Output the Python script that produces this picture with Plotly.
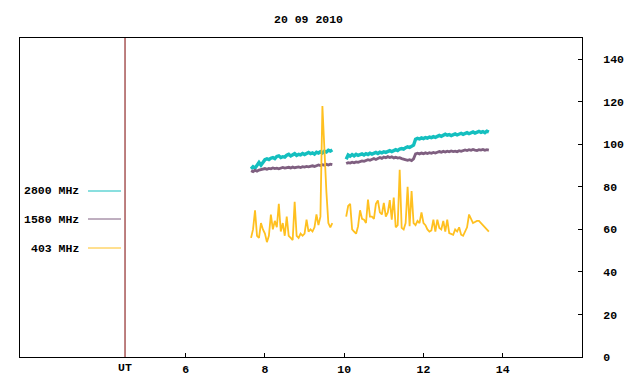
import plotly.graph_objects as go

# ---------------- data ----------------
TITLE = "20 09 2010"
SERIES_NAMES = ["2800 MHz", "1580 MHz", "403 MHz"]
SERIES_COLORS = ["#14bfbf", "#7f5f80", "#ffc020"]
X_TICKS = [6, 8, 10, 12, 14]
Y_TICKS = [0, 20, 40, 60, 80, 100, 120, 140]
UT_POS = 4.47

SEG1_START, SEG2_START, STEP = 7.65, 10.05, 0.05

f2800_seg1 = [88.5, 89.5, 88.8, 90.5, 91.5, 90.2, 91.8, 92.8, 93.2, 92.8, 93.5, 93.8, 93.3, 94.3,
              94.6, 93.8, 94.2, 94.0, 94.9, 95.3, 94.5, 95.0, 95.6, 94.8, 95.3, 95.0, 95.7, 95.2,
              95.8, 96.2, 95.6, 96.0, 95.4, 96.3, 95.9, 96.5, 96.0, 96.8, 96.4, 97.2, 96.8, 97.4]
f2800_seg2 = [93.0, 95.0, 94.4, 95.2, 94.6, 95.3, 94.8, 95.0, 95.5, 95.0, 95.6, 95.2, 95.8, 95.4,
              95.9, 96.2, 95.7, 96.3, 96.0, 96.5, 96.2, 96.8, 97.0, 96.6, 97.2, 97.5, 97.1, 97.8,
              98.0, 97.7, 98.4, 98.8, 98.5, 99.2, 99.6, 102.4, 102.8, 102.5, 103.0, 102.7, 103.2,
              102.9, 103.4, 103.1, 103.6, 103.3, 103.8, 104.2, 103.8, 104.4, 104.8, 104.3, 104.6,
              104.1, 104.5, 104.9, 104.4, 104.8, 105.2, 104.7, 105.1, 105.5, 105.0, 105.4, 105.8,
              105.3, 105.7, 106.1, 105.6, 106.0, 105.5, 106.2, 105.8]

f1580_seg1 = [87.6, 87.2, 87.8, 87.4, 87.9, 88.1, 88.4, 88.6, 88.3, 88.7, 88.5, 88.9, 88.6, 88.8,
              88.5, 88.9, 89.1, 88.8, 89.0, 89.2, 88.9, 89.3, 89.0, 89.2, 89.4, 89.1, 89.5, 89.3,
              89.6, 89.4, 89.7, 89.9, 89.6, 90.0, 90.3, 90.0, 90.4, 90.2, 90.6, 90.3, 90.7, 90.5]
f1580_seg2 = [91.0, 91.4, 91.2, 91.6, 91.3, 91.7, 91.5, 91.9, 92.2, 92.0, 92.5, 92.8, 92.5, 93.0,
              93.3, 92.9, 93.5, 93.8, 93.4, 94.0, 93.7, 94.2, 93.8, 94.1, 93.6, 93.9, 93.5, 93.7,
              93.3, 93.0, 92.7, 92.5, 92.8, 92.4, 93.2, 95.5, 95.8, 95.5, 95.9, 95.6, 96.0, 95.7,
              96.1, 95.8, 96.2, 95.9, 96.3, 96.6, 96.3, 96.7, 96.4, 96.8, 96.5, 96.9, 96.6, 96.8,
              96.5, 97.0, 96.7, 97.2, 97.4, 97.1, 97.5, 97.2, 97.6, 97.3, 97.1, 97.5, 97.3, 97.6,
              97.2, 97.5, 97.3]

f403_seg1 = [56, 60, 69, 57, 56, 63, 60, 58, 54, 57, 67, 60, 64, 61, 72, 59, 63, 57, 66, 57, 56,
             55, 73, 57, 56, 58, 57, 58, 64.6, 59, 60, 59, 61, 67, 62, 66, 118, 96, 77.8, 63, 61, 63]
f403_seg2 = [66, 71, 72, 60, 59, 58, 61.5, 69, 65, 64.6, 63, 74, 66, 66, 65, 72, 73.6, 68, 67, 72.5,
             66, 68, 73.8, 64.6, 75, 61, 62, 88, 60.7, 60, 63, 80, 61.5, 78, 63, 62, 64, 63, 68, 63,
             62, 60, 59, 59.5, 64.6, 59, 64.6, 60.7, 60, 64, 59, 64.6, 58.3, 57.8, 57.5, 60, 59, 61,
             57.5, 57, 59, 61, 67, 65, 63, 63.5, 64, 64, 63, 62.4, 61, 60, 59]

# ---------------- figure ----------------
def times(start, n):
    return [round(start + STEP * i, 3) for i in range(n)]

def join(seg1, seg2):
    x = times(SEG1_START, len(seg1)) + [None] + times(SEG2_START, len(seg2))
    y = seg1 + [None] + seg2
    return x, y

series = [(f2800_seg1, f2800_seg2), (f1580_seg1, f1580_seg2), (f403_seg1, f403_seg2)]
widths = [3.4, 2.8, 1.8]

fig = go.Figure()
for (s1, s2), name, col, w in zip(series, SERIES_NAMES, SERIES_COLORS, widths):
    x, y = join(s1, s2)
    fig.add_trace(go.Scatter(x=x, y=y, mode="lines", name=name,
                             line=dict(color=col, width=w), connectgaps=False,
                             showlegend=False))

FONT = dict(family="Liberation Mono, DejaVu Sans Mono, monospace", size=11.5,
            color="black", weight="bold")

# screen pixels of the plot area: x 20..582, y 38..357; page has an 8px body margin
OFF = 8
L, R, T, B = 20, 582, 38, 357
W, H = 640 - 2 * OFF, 384 - 2 * OFF

def px(x):
    return (x - L) / (R - L)

def py(y):
    return (B - y) / (B - T)

shapes = [dict(type="line", xref="x", yref="paper", x0=UT_POS, x1=UT_POS, y0=0, y1=1,
               line=dict(color="#7a0000", width=1))]
annotations = [
    dict(text=TITLE, xref="paper", yref="paper", x=px(308), y=py(19), showarrow=False,
         font=FONT, xanchor="center", yanchor="middle"),
    dict(text="UT", xref="x", yref="paper", x=UT_POS, y=py(367), showarrow=False,
         font=FONT, xanchor="center", yanchor="middle"),
]
legend_y = [191, 219, 248]
for name, col, ly in zip(SERIES_NAMES, SERIES_COLORS, legend_y):
    annotations.append(dict(text=name, xref="paper", yref="paper", x=px(81), y=py(ly),
                            showarrow=False, font=FONT, xanchor="right", yanchor="middle"))
    shapes.append(dict(type="line", xref="paper", yref="paper", x0=px(88), x1=px(121),
                       y0=py(ly), y1=py(ly), line=dict(color=col, width=1)))

fig.update_layout(
    width=W, height=H,
    margin=dict(l=L - OFF, r=(640 - OFF) - R, t=T - OFF, b=(384 - OFF) - B, pad=0,
                autoexpand=False),
    paper_bgcolor="white", plot_bgcolor="white",
    shapes=shapes, annotations=annotations,
    font=FONT,
    xaxis=dict(range=[1.82, 16.0], tickvals=X_TICKS, ticktext=[str(v) for v in X_TICKS],
               ticks="inside", ticklen=4, tickcolor="black", showgrid=False, zeroline=False,
               showline=True, linecolor="black", linewidth=1, mirror=True,
               tickfont=FONT, automargin=False, ticklabelstandoff=1),
    yaxis=dict(range=[0, 150], side="right", tickvals=Y_TICKS, ticks="inside", ticklen=4,
               tickcolor="black", showgrid=False, zeroline=False, showline=True,
               linecolor="black", linewidth=1, mirror=True, tickfont=FONT, automargin=False,
               ticklabelstandoff=18),
)

fig.write_html("out.html")
